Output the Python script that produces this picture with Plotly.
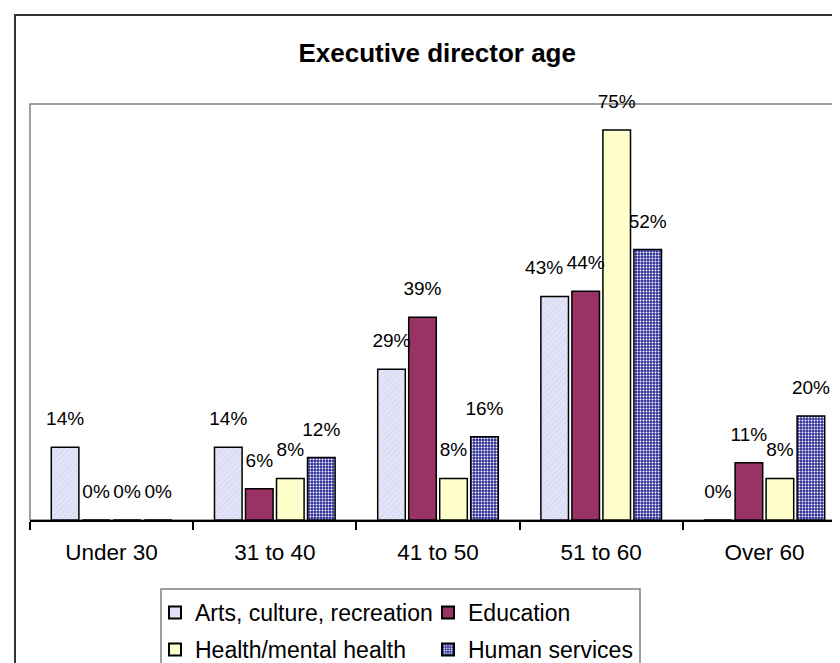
import plotly.graph_objects as go

categories = ["Under 30", "31 to 40", "41 to 50", "51 to 60", "Over 60"]
arts = [14, 14, 29, 43, 0]
education = [0, 6, 39, 44, 11]
health = [0, 8, 8, 75, 8]
human = [0, 12, 16, 52, 20]

series_names = ["Arts, culture, recreation", "Education", "Health/mental health", "Human services"]
series_values = [arts, education, health, human]
legend_ids = ["legend", "legend", "legend2", "legend2"]

FONT = "Liberation Sans, Arial, sans-serif"
NBSP = "\u00a0"

styles = [
    dict(color="#E4E4F8", pattern=dict(shape="/", fgcolor="#C4C4EA", bgcolor="#E4E4F8", size=4, solidity=0.25)),
    dict(color="#993366"),
    dict(color="#FFFFCC"),
    dict(color="#333399", pattern=dict(shape=".", fgcolor="#FFFFFF", bgcolor="#30309A", size=3, solidity=0.32, fillmode="replace")),
]


def label_texts(series_index, vals):
    out = []
    for j, v in enumerate(vals):
        t = f"{v}%"
        # the first series' label leans left where its neighbour's label is close by
        if series_index == 0 and education[j] > 0 and abs(education[j] - v) <= 3:
            t = t + NBSP * 4
        out.append(t)
    return out


fig = go.Figure()
for i, (name, vals) in enumerate(zip(series_names, series_values)):
    st = styles[i]
    marker = dict(color=st["color"], line=dict(color="#000000", width=1.5))
    if "pattern" in st:
        marker["pattern"] = st["pattern"]
    fig.add_trace(go.Bar(
        x=categories, y=vals, name=name, marker=marker,
        offsetgroup=str(i), hoverinfo="skip", legend=legend_ids[i],
    ))

for i, (name, vals) in enumerate(zip(series_names, series_values)):
    fig.add_trace(go.Scatter(
        x=categories, y=vals, mode="markers+text",
        text=label_texts(i, vals), textposition="top center",
        textfont=dict(family=FONT, size=19, color="#000000"),
        marker=dict(size=26, opacity=0),
        offsetgroup=str(i), showlegend=False, hoverinfo="skip", cliponaxis=False,
    ))

W_PLOT = 816.0
H_PLOT = 416.0
legend_common = dict(orientation="h", xanchor="left", yanchor="top",
                     font=dict(family=FONT, size=23, color="#000000"),
                     borderwidth=0, bgcolor="rgba(0,0,0,0)",
                     entrywidth=228, entrywidthmode="pixels",
                     traceorder="normal", itemsizing="constant")

fig.update_layout(
    width=840, height=663,
    margin=dict(l=22, r=2, t=96, b=151, autoexpand=False),
    paper_bgcolor="white", plot_bgcolor="white",
    barmode="group", bargap=0.24, bargroupgap=0.11,
    scattermode="group", scattergap=0.24,
    font=dict(family=FONT, color="#000000"),
    title=dict(text="<b>Executive director age</b>", x=0.511, y=1 - 45 / 663,
               xanchor="center", yanchor="middle",
               font=dict(family=FONT, size=26, color="#000000")),
    showlegend=True,
    legend=dict(x=(147 - 22) / W_PLOT, y=(512 - 583) / H_PLOT, **legend_common),
    legend2=dict(x=(147 - 22) / W_PLOT, y=(512 - 620) / H_PLOT, **legend_common),
    xaxis=dict(type="category", showline=True, linecolor="#000000", linewidth=1.5,
               ticks="outside", tickson="boundaries", ticklen=8, tickcolor="#000000",
               tickwidth=1.5, showgrid=False, zeroline=False, ticklabelstandoff=11,
               tickfont=dict(family=FONT, size=22.5, color="#000000")),
    yaxis=dict(range=[0, 80], showticklabels=False, showgrid=False, zeroline=False,
               ticks="", showline=False),
    shapes=[
        dict(type="rect", xref="paper", yref="paper", x0=0, x1=1, y0=0, y1=1,
             line=dict(color="#808080", width=1.5), layer="below"),
        dict(type="rect", xref="paper", yref="paper", x0=(7 - 22) / W_PLOT, x1=1.2,
             y0=-0.6, y1=(512 - 7) / H_PLOT,
             line=dict(color="#333333", width=2), layer="below"),
        dict(type="rect", xref="paper", yref="paper", x0=(153 - 22) / W_PLOT,
             x1=(632 - 22) / W_PLOT, y0=-0.6, y1=(512 - 581) / H_PLOT,
             line=dict(color="#808080", width=1.5), layer="below"),
    ],
)

fig.write_html("out.html")
